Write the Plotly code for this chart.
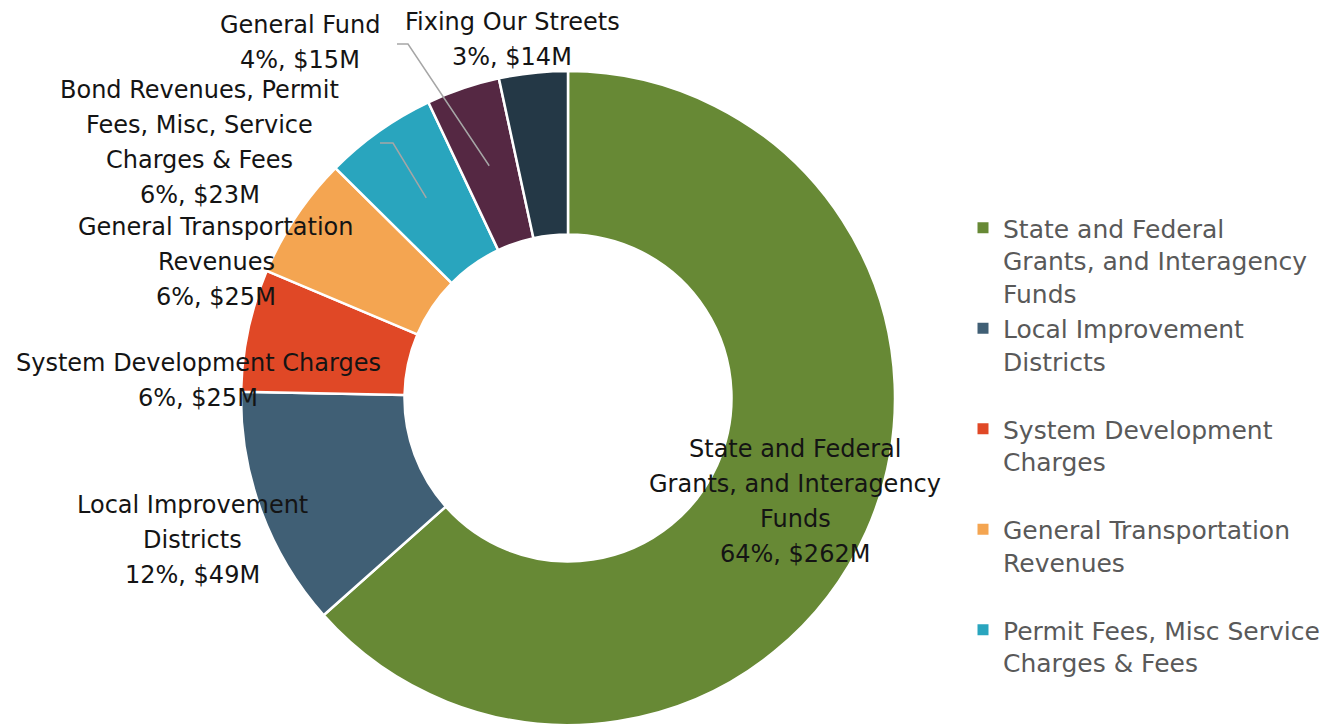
import math
import plotly.graph_objects as go

# ---- data ----
categories = [
    "State and Federal Grants, and Interagency Funds",
    "Local Improvement Districts",
    "System Development Charges",
    "General Transportation Revenues",
    "Bond Revenues, Permit Fees, Misc, Service Charges & Fees",
    "General Fund",
    "Fixing Our Streets",
]
values = [262, 49, 25, 25, 23, 15, 14]
percent_labels = ["64%", "12%", "6%", "6%", "6%", "4%", "3%"]
colors = ["#678935", "#405F75", "#E04826", "#F4A551", "#29A5BE", "#552843", "#243846"]

label_lines = [
    ["State and Federal", "Grants, and Interagency", "Funds"],
    ["Local Improvement", "Districts"],
    ["System Development Charges"],
    ["General Transportation", "Revenues"],
    ["Bond Revenues, Permit", "Fees, Misc, Service", "Charges & Fees"],
    ["General Fund"],
    ["Fixing Our Streets"],
]

legend_labels = [
    "State and Federal<br>Grants, and Interagency<br>Funds",
    "Local Improvement<br>Districts<br> ",
    "System Development<br>Charges<br> ",
    "General Transportation<br>Revenues<br> ",
    "Permit Fees, Misc Service<br>Charges & Fees",
]

# ---- layout constants (screen pixels) ----
W, H = 1334, 727
OFF = 8  # page body margin
CX, CY, R = 568, 398, 327
HOLE = 0.5
FONT = "DejaVu Sans"
LABEL_SIZE = 24
LINE_H = 35

# label block anchors: (center x, first line y) in screen pixels
label_pos = [(795, 449), (192, 505), (198, 363), (216, 227), (200, 90), (300, 25), (512, 22)]


def px_to_paper(x, y):
    return (x - OFF) / W, 1 - (y - OFF) / H


fig = go.Figure()
dx0, dy1 = px_to_paper(CX - R, CY - R)
dx1, dy0 = px_to_paper(CX + R, CY + R)
fig.add_trace(go.Pie(
    labels=categories, values=values, hole=HOLE, sort=False,
    direction="clockwise", rotation=0, textinfo="none",
    marker=dict(colors=colors, line=dict(color="white", width=2.5)),
    domain=dict(x=[dx0, dx1], y=[dy0, dy1]),
    showlegend=False, hoverinfo="label+value+percent",
))

for lbl, col in zip(legend_labels, colors):
    fig.add_trace(go.Scatter(
        x=[None], y=[None], mode="markers", name=lbl,
        marker=dict(symbol="square", size=11, color=col), showlegend=True,
    ))

annotations = []
for lines, pct, v, (lx, ly) in zip(label_lines, percent_labels, values, label_pos):
    all_lines = lines + [f"{pct}, ${v}M"]
    for i, t in enumerate(all_lines):
        px, py = px_to_paper(lx, ly + i * LINE_H)
        annotations.append(dict(
            x=px, y=py, xref="paper", yref="paper", text=t, showarrow=False,
            xanchor="center", yanchor="middle",
            font=dict(family=FONT, size=LABEL_SIZE, color="#141414"),
        ))

# leader lines for the two small slices, pointing to the ring middle at slice mid-angle
total = sum(values)
shapes = []
leader_starts = {5: (397, 44, 408), 4: (380, 143, 393)}
cum = 0
for i, v in enumerate(values):
    mid = (cum + v / 2) / total * 2 * math.pi
    cum += v
    if i in leader_starts:
        sx, sy, bx = leader_starts[i]
        rm = R * (1 + HOLE) / 2
        ex = CX + rm * math.sin(mid)
        ey = CY - rm * math.cos(mid)
        p = [px_to_paper(sx, sy), px_to_paper(bx, sy), px_to_paper(ex, ey)]
        path = f"M {p[0][0]} {p[0][1]} L {p[1][0]} {p[1][1]} L {p[2][0]} {p[2][1]}"
        shapes.append(dict(type="path", path=path, xref="paper", yref="paper",
                           line=dict(color="#A6A6A6", width=1.5)))

lx, ly = px_to_paper(955 + OFF, 205)
fig.update_layout(
    width=W, height=H, margin=dict(l=0, r=0, t=0, b=0),
    paper_bgcolor="white", plot_bgcolor="white",
    xaxis=dict(visible=False), yaxis=dict(visible=False),
    annotations=annotations, shapes=shapes,
    legend=dict(
        x=lx, y=ly, xanchor="left", yanchor="top",
        font=dict(family=FONT, size=25, color="#595959"),
        valign="top", tracegroupgap=0, bgcolor="rgba(0,0,0,0)",
    ),
    showlegend=True,
)

fig.write_html("out.html")
